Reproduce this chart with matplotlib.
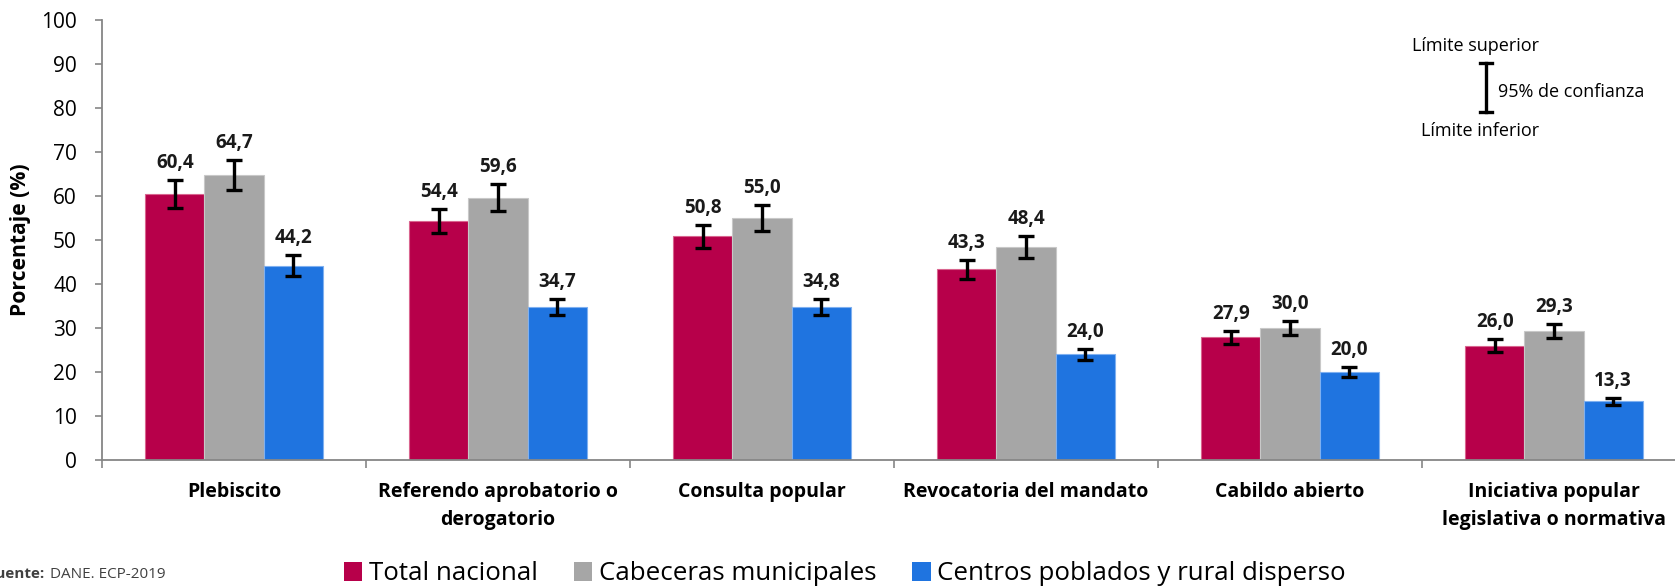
import matplotlib
matplotlib.use("Agg")
import matplotlib.pyplot as plt
from matplotlib.lines import Line2D
from matplotlib.patches import Patch
import numpy as np

plt.rcParams['font.family'] = ['Open Sans', 'DejaVu Sans']

categories = ["Plebiscito", "Referendo aprobatorio o\nderogatorio", "Consulta popular",
              "Revocatoria del mandato", "Cabildo abierto",
              "Iniciativa popular\nlegislativa o normativa"]
series_names = ["Total nacional", "Cabeceras municipales", "Centros poblados y rural disperso"]
total_nacional = [60.4, 54.4, 50.8, 43.3, 27.9, 26.0]
cabeceras = [64.7, 59.6, 55.0, 48.4, 30.0, 29.3]
centros = [44.2, 34.7, 34.8, 24.0, 20.0, 13.3]
err_total = [3.2, 2.75, 2.7, 2.25, 1.5, 1.4]
err_cabeceras = [3.4, 3.05, 2.9, 2.6, 1.65, 1.6]
err_centros = [2.35, 1.8, 1.85, 1.3, 1.1, 0.85]
yticks = [0, 10, 20, 30, 40, 50, 60, 70, 80, 90, 100]

colors = ["#B7004A", "#A6A6A6", "#1F74E0"]
edges = ["#D9658F", "#C8C8C8", "#7FB0F0"]

W, H = 1675, 588
fig = plt.figure(figsize=(W / 100, H / 100), dpi=100)
ax = fig.add_axes([102 / W, (H - 460) / H, 1584 / W, 440 / H])

x = np.arange(len(categories))
bw = 0.2235
values = [total_nacional, cabeceras, centros]
errs = [err_total, err_cabeceras, err_centros]
for i, (vals, er) in enumerate(zip(values, errs)):
    pos = x + (i - 1) * bw
    ax.bar(pos, vals, width=bw, color=colors[i], edgecolor=edges[i], linewidth=0.8,
           zorder=2, label=series_names[i])
    ax.errorbar(pos, vals, yerr=er, fmt='none', ecolor='black', elinewidth=2.4,
                capsize=5.5, capthick=2.4, zorder=3)
    for p, v, e in zip(pos, vals, er):
        ax.annotate(f"{v:.1f}".replace('.', ','), xy=(p, v + e), xytext=(0, 5),
                    textcoords='offset points', ha='center', va='bottom',
                    fontsize=13.5, fontweight='bold', color='#1a1a1a')

ax.set_xlim(-0.5, len(categories) - 0.5)
ax.set_ylim(0, 100)
ax.set_yticks(yticks)
ax.set_yticklabels([str(t) for t in yticks])
ax.set_xticks(x)
ax.set_xticklabels(categories, fontweight='bold', fontsize=14, linespacing=1.55)
ax.set_xticks(np.arange(len(categories) + 1) - 0.5, minor=True)
ax.tick_params(axis='x', which='major', length=0, pad=16)
ax.tick_params(axis='x', which='minor', length=6, width=1.2, color='#868686', direction='out')
ax.tick_params(axis='y', length=5, width=1.2, color='#868686', labelsize=15, pad=13)
for s in ['top', 'right']:
    ax.spines[s].set_visible(False)
for s in ['left', 'bottom']:
    ax.spines[s].set_color('#868686')
    ax.spines[s].set_linewidth(1.3)
ax.set_ylabel("Porcentaje (%)", fontsize=15.2, fontweight='bold')
ax.yaxis.set_label_coords((31 - 102) / 1584, 0.5)

# Legend
handles = [Patch(facecolor=c, edgecolor='none') for c in colors]
fig.legend(handles, series_names, loc='center', bbox_to_anchor=(845 / W, 1 - 574 / H),
           ncol=3, frameon=False, fontsize=18.6, handlelength=0.7, handleheight=0.7,
           handletextpad=0.26, columnspacing=1.4, borderaxespad=0, borderpad=0)

# Source
fig.text(45 / W, 1 - 574 / H, "Fuente:", ha='right', va='center', fontsize=11,
         fontweight='bold', color='#404040')
fig.text(50 / W, 1 - 574 / H, "DANE. ECP-2019", ha='left', va='center', fontsize=11,
         color='#404040')

# Confidence interval key
fig.text(1475 / W, 1 - 46 / H, "Límite superior", ha='center', va='center', fontsize=13)
fig.text(1480 / W, 1 - 131 / H, "Límite inferior", ha='center', va='center', fontsize=13)
fig.text(1498 / W, 1 - 92 / H, "95% de confianza", ha='left', va='center', fontsize=13)
bx = 1486 / W
fig.add_artist(Line2D([bx, bx], [1 - 63 / H, 1 - 112 / H], color='black', lw=2.4))
for yy in (63, 112):
    fig.add_artist(Line2D([bx - 6 / W, bx + 6 / W], [1 - yy / H, 1 - yy / H],
                          color='black', lw=2.4))

fig.savefig("out.png", dpi=100)
